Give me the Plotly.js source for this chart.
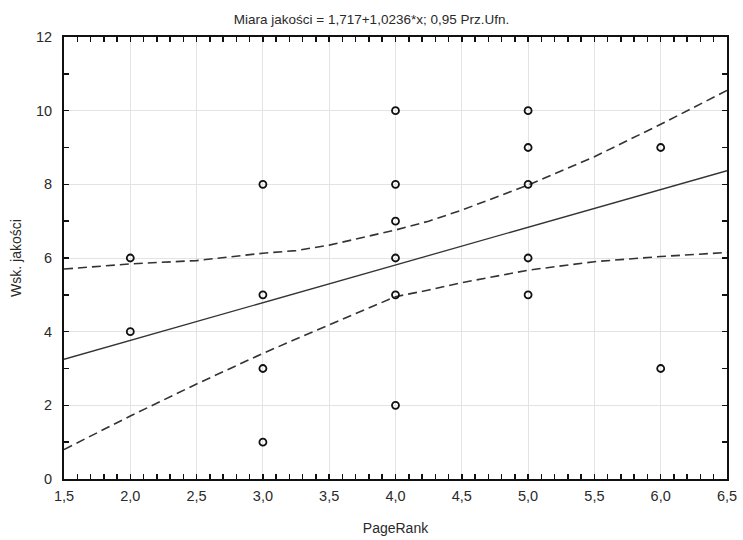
<!DOCTYPE html>
<html><head><meta charset="utf-8">
<script src="https://cdn.plot.ly/plotly-3.0.1.min.js"></script>
<style>html,body{margin:0;padding:0;background:#fff}#chart{width:743px;height:540px}</style>
</head><body><div id="chart"></div>
<script>
// Observed points (PageRank, Wsk. jakości)
const pointsX = [2, 2, 3, 3, 3, 3, 4, 4, 4, 4, 4, 4, 5, 5, 5, 5, 5, 6, 6];
const pointsY = [6, 4, 8, 5, 3, 1, 10, 8, 7, 6, 5, 2, 10, 9, 8, 6, 5, 9, 3];
// Regression line endpoints
const fitX = [1.5, 6.5];
const fitY = [3.25, 8.37];
// 95% confidence band readings
const bandX = [1.5, 2.0, 2.5, 3.0, 3.25, 3.5, 4.0, 4.25, 4.5, 5.0, 5.5, 6.0, 6.5];
const upperY = [5.70, 5.84, 5.93, 6.13, 6.20, 6.35, 6.76, 7.00, 7.30, 7.98, 8.75, 9.63, 10.55];
const lowerY = [0.80, 1.71, 2.58, 3.41, 3.80, 4.18, 4.95, 5.13, 5.33, 5.67, 5.90, 6.04, 6.15];
const xTicks = [1.5, 2.0, 2.5, 3.0, 3.5, 4.0, 4.5, 5.0, 5.5, 6.0, 6.5];
const yTicks = [0, 2, 4, 6, 8, 10, 12];

const font = 'Liberation Sans Narrow, Arial Narrow, Liberation Sans, Arial, sans-serif';
const ink = '#2a2a2a';

const traces = [
  {x: bandX, y: upperY, mode: 'lines', line: {color: '#333', width: 1.6, dash: '9px,5px'}, hoverinfo: 'skip'},
  {x: bandX, y: lowerY, mode: 'lines', line: {color: '#333', width: 1.6, dash: '9px,5px'}, hoverinfo: 'skip'},
  {x: fitX, y: fitY, mode: 'lines', line: {color: '#333', width: 1.3}},
  {x: pointsX, y: pointsY, mode: 'markers', marker: {symbol: 'circle-open', size: 7, color: '#111', line: {width: 1.8, color: '#111'}}}
];

const layout = {
  width: 743, height: 540,
  margin: {l: 64, r: 16, t: 37, b: 61},
  paper_bgcolor: '#fff', plot_bgcolor: '#fff',
  showlegend: false,
  separators: ',.',
  font: {family: font, size: 14, color: ink},
  title: {text: 'Miara jakości = 1,717+1,0236*x; 0,95 Prz.Ufn.', font: {family: font, size: 13.5, color: ink}, x: 0.5, xanchor: 'center', y: 0.965, yanchor: 'middle'},
  xaxis: {
    range: [1.5, 6.5], tickvals: xTicks, tickformat: '.1f',
    showgrid: true, gridcolor: '#e3e3e3', gridwidth: 1,
    zeroline: false, showline: true, linecolor: '#111', linewidth: 2, mirror: 'allticks',
    ticks: 'inside', ticklen: 5, tickcolor: '#111', tickwidth: 1.5, ticklabelstandoff: 3,
    minor: {dtick: 0.1, tick0: 1.5, ticks: 'inside', ticklen: 5, tickcolor: '#111', tickwidth: 1.5, showgrid: false},
    tickfont: {family: font, size: 14.5, color: ink},
    title: {text: 'PageRank', font: {family: font, size: 14, color: ink}, standoff: 20}
  },
  yaxis: {
    range: [0, 12], tickvals: yTicks,
    showgrid: true, gridcolor: '#e3e3e3', gridwidth: 1,
    zeroline: false, showline: true, linecolor: '#111', linewidth: 2, mirror: 'allticks',
    ticks: 'inside', ticklen: 5, tickcolor: '#111', tickwidth: 1.5, ticklabelstandoff: 7,
    minor: {dtick: 1, tick0: 0, ticks: 'inside', ticklen: 5, tickcolor: '#111', tickwidth: 1.5, showgrid: false},
    tickfont: {family: font, size: 14.5, color: ink},
    title: {text: 'Wsk. jakości', font: {family: font, size: 14, color: ink}, standoff: 11}
  }
};

Plotly.newPlot('chart', traces, layout, {staticPlot: true, displayModeBar: false});
</script>
</body></html>
